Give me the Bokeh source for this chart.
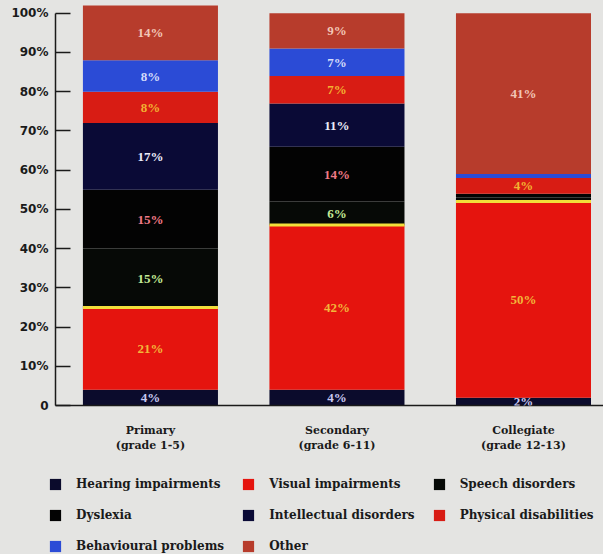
from bokeh.plotting import figure
from bokeh.layouts import column, row
from bokeh.models import ColumnDataSource, Legend, LegendItem, FixedTicker, LabelSet, Range1d
from bokeh.embed import file_html
from bokeh.resources import INLINE

# ---- data ----
levels = ["Primary\n(grade 1-5)", "Secondary\n(grade 6-11)", "Collegiate\n(grade 12-13)"]
series = ["Hearing impairments", "Visual impairments", "Speech disorders", "Dyslexia",
          "Intellectual disorders", "Physical disabilities", "Behavioural problems", "Other"]
hearing = [4, 4, 2]
visual = [21, 42, 50]
speech = [15, 6, 1]
dyslexia = [15, 14, 1]
intellectual = [17, 11, 0]
physical = [8, 7, 4]
behavioural = [8, 7, 1]
other = [14, 9, 41]
y_ticks = [0, 10, 20, 30, 40, 50, 60, 70, 80, 90, 100]
y_tick_labels = ["0", "10%", "20%", "30%", "40%", "50%", "60%", "70%", "80%", "90%", "100%"]

# ---- styles ----
fills = ["#0b0b2c", "#e5140e", "#060906", "#030303", "#0a0a36", "#d81c14", "#2b4bd6", "#b73c2c"]
text_cols = ["#c8c8f2", "#f2b63a", "#c4ea96", "#f07a86", "#ececfa", "#f2b232", "#d4dcfa", "#f2c6b6"]
bg = "#e4e4e2"
bar_w = 0.724

values = [hearing, visual, speech, dyslexia, intellectual, physical, behavioural, other]
xs = list(range(1, len(levels) + 1))
keys = ["s%d" % i for i in range(len(series))]
data = {"x": xs}
for k, v in zip(keys, values):
    data[k] = v
src = ColumnDataSource(data)

p = figure(width=603, height=460, output_backend="svg", toolbar_location=None,
           x_range=Range1d(0.491, 3.429), y_range=Range1d(0, 103),
           min_border_left=55, min_border_right=0, min_border_top=1, min_border_bottom=55,
           background_fill_color=bg, border_fill_color=bg, outline_line_color=None)
p.grid.visible = False

p.vbar_stack(keys, x="x", width=bar_w, source=src, color=fills, line_color=None)

# yellow rim on top of the visual-impairment segments (derived from the data)
vis_top = [h + v for h, v in zip(hearing, visual)]
p.segment(x0=[x - bar_w / 2 for x in xs], x1=[x + bar_w / 2 for x in xs],
          y0=vis_top, y1=vis_top, line_color="#f2df3a", line_width=3)

# labels at segment middles
lx, ly, lt, lc = [], [], [], []
for j, x in enumerate(xs):
    base = 0
    for i, v in enumerate(values):
        val = v[j]
        if val >= 2:
            lx.append(x); ly.append(base + val / 2); lt.append("%d%%" % val); lc.append(text_cols[i])
        base += val
lsrc = ColumnDataSource(dict(x=lx, y=ly, t=lt, c=lc))
p.add_layout(LabelSet(x="x", y="y", text="t", source=lsrc, text_color="c",
                      text_font="DejaVu Sans", text_font_style="bold", text_font_size="13px",
                      text_align="center", text_baseline="middle"))

# y axis
ya = p.yaxis[0]
ya.ticker = FixedTicker(ticks=y_ticks)
ya.major_label_overrides = {t: l for t, l in zip(y_ticks, y_tick_labels)}
ya.bounds = (0, 100)
ya.major_tick_in = 15
ya.major_tick_out = 0
ya.minor_tick_line_color = None
ya.axis_line_color = "#1a1a1a"
ya.major_tick_line_color = "#1a1a1a"
ya.axis_line_width = 1.5
ya.major_tick_line_width = 1.5
ya.major_label_text_font = "DejaVu Sans"
ya.major_label_text_font_style = "bold"
ya.major_label_text_font_size = "12px"
ya.major_label_text_color = "#1a1a1a"
ya.major_label_standoff = 7

# x axis
xa = p.xaxis[0]
xa.ticker = FixedTicker(ticks=xs)
xa.major_label_overrides = {x: l for x, l in zip(xs, levels)}
xa.major_tick_line_color = None
xa.minor_tick_line_color = None
xa.axis_line_color = "#1a1a1a"
xa.axis_line_width = 1.5
xa.major_label_text_font = "DejaVu Serif"
xa.major_label_text_font_style = "bold"
xa.major_label_text_font_size = "11px"
xa.major_label_text_color = "#1a1a1a"
xa.major_label_standoff = 12

# legend in its own strip below
q = figure(width=603, height=94, output_backend="svg", toolbar_location=None,
           x_range=Range1d(1000, 1001), y_range=Range1d(1000, 1001),
           x_axis_location=None, y_axis_location=None,
           min_border_left=0, min_border_right=0, min_border_top=0, min_border_bottom=0,
           background_fill_color=bg, border_fill_color=bg, outline_line_color=None)
q.grid.visible = False
rends = q.vbar_stack(keys, x="x", width=bar_w, source=src, color=fills, line_color=None)
items = [LegendItem(label=s, renderers=[r]) for s, r in zip(series, rends)]
leg = Legend(items=items, orientation="horizontal", ncols=3,
             label_text_font="DejaVu Serif", label_text_font_style="bold",
             label_text_font_size="12px", label_text_color="#1a1a1a",
             glyph_width=14, glyph_height=14, label_height=14, label_standoff=14,
             spacing=17, padding=0, margin=0, location=(48, 1),
             background_fill_alpha=0, border_line_alpha=0)
q.add_layout(leg, "center")

layout = column(p, row(q, spacing=0), spacing=0, styles={"background-color": bg})
open("out.html", "w").write(file_html(layout, INLINE))
